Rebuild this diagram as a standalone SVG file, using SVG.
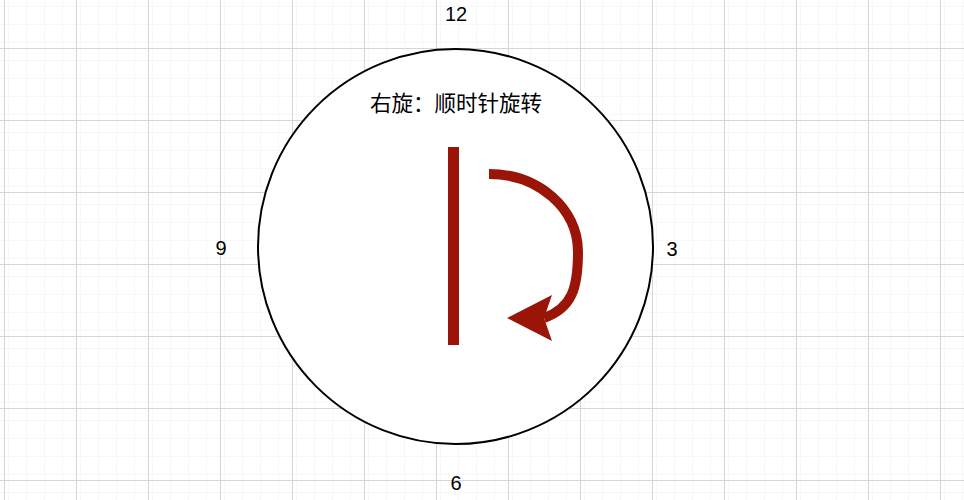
<svg xmlns="http://www.w3.org/2000/svg" width="964" height="500" viewBox="0 0 964 500">
  <defs>
    <pattern id="minor" width="18" height="18" patternUnits="userSpaceOnUse" x="4" y="12">
      <path d="M0,0 H18 M0,0 V18" fill="none" stroke="#efefef" stroke-width="1"/>
    </pattern>
    <pattern id="major" width="72" height="72" patternUnits="userSpaceOnUse" x="4" y="48">
      <rect width="72" height="72" fill="url(#minor)"/>
      <path d="M0,0.5 H72 M0.5,0 V72" fill="none" stroke="#d6d6d6" stroke-width="1"/>
    </pattern>
    <marker id="head" markerUnits="userSpaceOnUse" viewBox="-12 -26 54 52" markerWidth="54" markerHeight="52" refX="0" refY="0" orient="180" overflow="visible">
      <path d="M-8,-23 L37,0 L-8,23 L0,0 Z" fill="#9a1408"/>
    </marker>
    <style>
      .lbl { font-family: "Liberation Sans", Arial, sans-serif; font-size: 20px; fill: #000; text-anchor: middle; }
      .cjk { font-family: "Noto Sans CJK SC", "Liberation Sans", sans-serif; font-size: 21.5px; fill: #000; text-anchor: middle; }
    </style>
  </defs>
  <rect width="964" height="500" fill="#ffffff"/>
  <rect width="964" height="500" fill="url(#major)"/>

  <g id="clock">
    <circle cx="455.5" cy="246.5" r="197.5" fill="#ffffff" stroke="#000000" stroke-width="2"/>
  </g>
  <g id="title">
    <text class="cjk" x="456" y="111">右旋：顺时针旋转</text>
  </g>
  <g id="label-12"><text class="lbl" x="456" y="21">12</text></g>
  <g id="label-3"><text class="lbl" x="672" y="256">3</text></g>
  <g id="label-6"><text class="lbl" x="456" y="490">6</text></g>
  <g id="label-9"><text class="lbl" x="221" y="255">9</text></g>
  <g id="bar">
    <rect x="448" y="147" width="11" height="198" fill="#9a1408"/>
  </g>
  <g id="connectors">
    <path d="M489,174 C538,174 578,208 578,252 C578,288 572,308 544,318" fill="none" stroke="#9a1408" stroke-width="10" marker-end="url(#head)"/>
  </g>
</svg>
